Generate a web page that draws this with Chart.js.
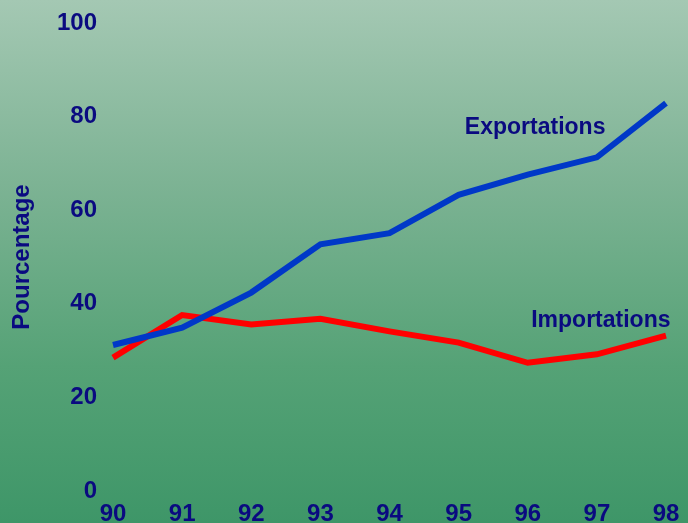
<!DOCTYPE html>
<html>
<head>
<meta charset="utf-8">
<script src="https://cdn.jsdelivr.net/npm/chart.js@4/dist/chart.umd.min.js"></script>
<style>
  html, body { margin: 0; padding: 0; }
  body { width: 688px; height: 523px; overflow: hidden;
    background: linear-gradient(to bottom, #a4c8b3 0%, #7db394 35%, #55a276 70%, #3e9668 100%); }
  #wrap { position: relative; width: 688px; height: 523px; }
</style>
</head>
<body>
<div id="wrap"><canvas id="c"></canvas></div>
<script>
// Exportations / importations en pourcentage
const years = ['90', '91', '92', '93', '94', '95', '96', '97', '98'];
const exportations = [31.2, 34.9, 42.4, 52.7, 55.1, 63.3, 67.6, 71.3, 82.9];
const importations = [28.5, 37.6, 35.6, 36.8, 34.1, 31.7, 27.4, 29.2, 33.2];
const yTicks = [0, 20, 40, 60, 80, 100];

// inline series labels: [text, x index, y value]
const seriesLabels = [
  ['Exportations', 5.09, 77.6],
  ['Importations', 6.05, 36.3]
];

const navy = '#0a0a80';
const font = 'Liberation Sans, Arial, sans-serif';

const labelPlugin = {
  id: 'inlineLabels',
  afterDatasetsDraw(chart){
    const ctx = chart.ctx;
    const xs = chart.scales.x, ys = chart.scales.y;
    ctx.save();
    ctx.font = 'bold 23px ' + font;
    ctx.fillStyle = navy;
    ctx.textBaseline = 'middle';
    ctx.textAlign = 'left';
    seriesLabels.forEach(l => {
      const x0 = xs.getPixelForValue(0), x1 = xs.getPixelForValue(1);
      ctx.fillText(l[0], x0 + (x1 - x0) * l[1], ys.getPixelForValue(l[2]));
    });
    ctx.restore();
  }
};

new Chart(document.getElementById('c'), {
  type: 'line',
  data: {
    labels: years,
    datasets: [
      {label: 'Exportations', data: exportations, borderColor: '#0038c8', borderWidth: 6, pointRadius: 0, tension: 0, fill: false, borderJoinStyle: 'miter'},
      {label: 'Importations', data: importations, borderColor: '#ff0000', borderWidth: 6, pointRadius: 0, tension: 0, fill: false, borderJoinStyle: 'miter'}
    ]
  },
  options: {
    responsive: true,
    maintainAspectRatio: false,
    animation: false,
    layout: {padding: {top: 23, right: 22, left: 0, bottom: 0}},
    plugins: {legend: {display: false}, tooltip: {enabled: false}},
    scales: {
      x: {
        grid: {display: false},
        border: {display: false},
        ticks: {color: navy, font: {family: font, size: 24, weight: 'bold', lineHeight: 1}, padding: 3, maxRotation: 0, autoSkip: false},
        afterFit: s => { s.height = 32; }
      },
      y: {
        min: 0, max: 100,
        afterBuildTicks: s => { s.ticks = yTicks.map(v => ({value: v})); },
        grid: {display: false},
        border: {display: false},
        ticks: {color: navy, font: {family: font, size: 24, weight: 'bold'}, padding: 8},
        title: {display: true, text: 'Pourcentage', color: navy, font: {family: font, size: 24, weight: 'bold', lineHeight: 1}, padding: {top: 10, bottom: 0}},
        afterFit: s => { s.width = 113; }
      }
    }
  },
  plugins: [labelPlugin]
});
</script>
</body>
</html>
